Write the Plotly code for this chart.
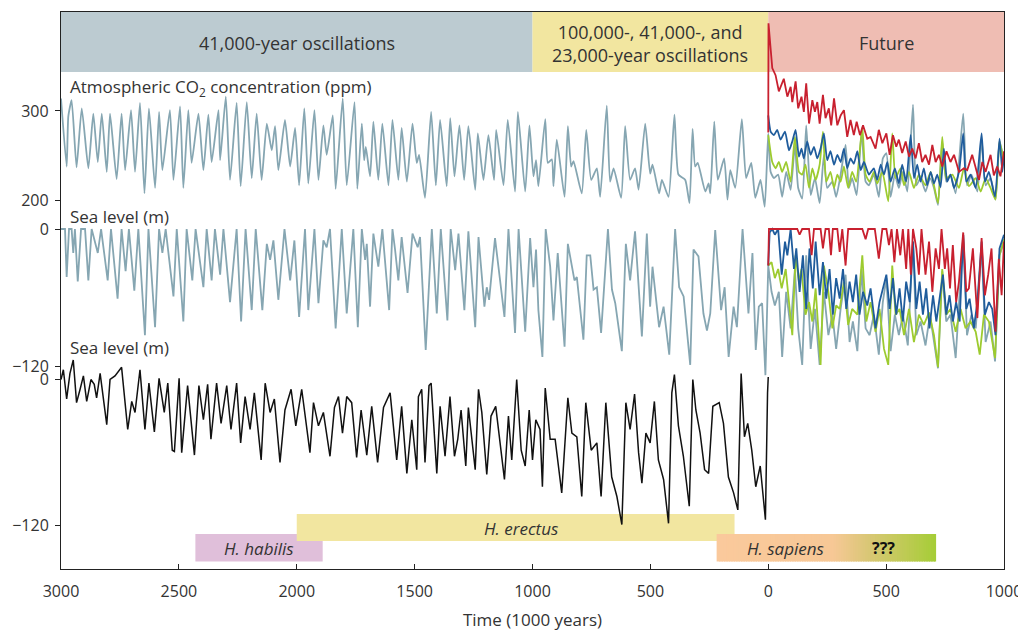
import plotly.graph_objects as go
import numpy as np

# ---------------- DATA (time in kyr, negative = past) ----------------
# Atmospheric CO2 (ppm), natural / reference run: past to future
grey_co2 = [
    (-3000,314),(-2976,238),(-2969,294),(-2955,312),(-2934,237),(-2912,303),(-2884,236),(-2863,297),
    (-2844,243),(-2827,297),(-2806,232),(-2792,297),(-2764,224),(-2743,297),(-2728,234),(-2703,301),
    (-2686,232),(-2665,309),(-2646,208),(-2627,303),(-2601,214),(-2584,299),(-2570,234),(-2538,301),
    (-2523,223),(-2495,305),(-2481,214),(-2460,301),(-2446,242),(-2417,297),(-2396,234),(-2375,296),
    (-2361,243),(-2332,301),(-2325,245),(-2301,316),(-2283,223),(-2255,309),(-2238,216),(-2212,310),
    (-2191,225),(-2170,297),(-2149,223),(-2127,286),(-2106,256),(-2092,283),(-2078,234),(-2050,290),
    (-2028,238),(-2007,281),(-1990,217),(-1968,303),(-1951,219),(-1925,301),(-1908,223),(-1887,284),
    (-1873,251),(-1847,295),(-1835,213),(-1805,314),(-1788,217),(-1755,310),(-1743,213),(-1724,286),
    (-1714,245),(-1707,260),(-1689,227),(-1675,288),(-1654,223),(-1637,286),(-1611,217),(-1594,290),
    (-1569,223),(-1555,281),(-1533,221),(-1509,286),(-1491,242),(-1481,251),(-1456,203),(-1430,299),
    (-1410,217),(-1392,290),(-1364,216),(-1349,292),(-1331,227),(-1310,284),(-1290,223),(-1272,283),
    (-1243,212),(-1232,275),(-1208,223),(-1187,273),(-1163,223),(-1154,279),(-1123,217),(-1105,290),
    (-1074,210),(-1062,299),(-1031,210),(-1013,284),(-996,227),(-985,245),(-975,216),(-946,291),
    (-935,242),(-918,246),(-911,216),(-897,268),(-864,204),(-850,283),(-836,238),(-826,244),
    (-791,208),(-772,279),(-751,223),(-727,236),(-713,204),(-685,306),(-671,221),(-656,236),
    (-624,203),(-607,283),(-586,223),(-565,236),(-550,212),(-522,286),(-501,230),(-491,240),
    (-463,208),(-451,223),(-423,204),(-398,296),(-381,229),(-352,223),(-334,197),(-321,280),
    (-310,238),(-299,242),(-267,210),(-253,219),(-246,208),(-229,288),(-214,223),(-187,247),
    (-173,201),(-161,234),(-140,214),(-112,291),(-94,225),(-72,242),(-55,203),(-33,223),
    (-15,193),(0,275),
    (10,232),(24,225),(42,229),(59,204),(76,232),(95,212),(113,262),(127,214),(144,202),(161,284),
    (180,206),(198,225),(218,197),(236,251),(250,214),(272,221),(288,204),(307,229),(328,262),
    (342,214),(356,225),(375,206),(396,277),(413,221),(427,217),(448,229),(469,204),(486,247),
    (501,253),(519,204),(537,229),(554,214),(571,232),(590,210),(614,307),(628,217),(646,225),
    (667,210),(686,225),(703,214),(720,195),(738,266),(755,221),(773,229),(795,208),(827,297),
    (843,217),(862,229),(887,210),(905,269),(922,217),(943,225),(964,201),(981,267),(1000,243),
]
green_co2 = [
    (0,273),(17,243),(31,236),(45,243),(59,232),(76,243),(95,221),(113,271),(130,232),(144,229),
    (158,240),(173,214),(187,236),(201,223),(218,240),(232,277),(246,221),(264,232),(279,214),
    (293,229),(307,221),(321,238),(339,214),(356,232),(373,221),(399,282),(413,229),(430,221),
    (448,232),(462,219),(484,232),(509,199),(526,275),(540,225),(561,236),(576,217),(597,232),
    (618,214),(639,229),(667,217),(689,232),(720,197),(738,271),(755,225),(781,229),(809,214),
    (830,236),(851,216),(880,225),(901,210),(922,225),(943,214),(964,201),(981,266),(1000,243),
]
blue_co2 = [
    (0,295),(10,277),(24,273),(38,279),(52,268),(71,277),(88,256),(102,266),(116,279),(130,249),
    (141,258),(151,247),(165,266),(180,251),(194,260),(208,247),(222,258),(236,275),(250,245),
    (264,255),(279,240),(293,251),(307,243),(321,258),(335,236),(349,247),(363,241),(378,255),
    (392,234),(406,243),(427,229),(448,236),(462,223),(477,240),(491,229),(505,243),(519,221),
    (537,236),(554,219),(568,240),(585,221),(604,273),(618,225),(632,240),(646,221),(660,236),
    (674,217),(689,232),(703,219),(717,229),(731,215),(745,258),(759,221),(773,229),(788,214),
    (809,232),(827,275),(840,221),(858,229),(880,214),(905,275),(919,221),(936,232),(962,204),
    (981,269),(993,232),(1000,251),
]
red_co2 = [
    (0,276),(1,398),(17,348),(31,340),(45,322),(66,336),(81,316),(95,327),(102,310),(116,333),
    (127,303),(141,316),(151,299),(161,331),(173,286),(187,312),(198,299),(208,310),(218,286),
    (232,318),(243,292),(257,303),(267,284),(279,314),(293,284),(307,295),(321,301),(335,271),
    (349,290),(363,273),(375,288),(389,273),(402,284),(420,269),(434,271),(455,258),(469,279),
    (484,264),(501,275),(515,251),(529,273),(543,260),(554,268),(568,253),(583,266),(597,249),
    (611,258),(625,247),(639,264),(653,243),(667,251),(682,240),(696,262),(710,243),(724,251),
    (738,238),(756,255),(773,243),(788,251),(809,232),(830,236),(844,234),(865,251),(880,236),
    (894,223),(908,243),(922,232),(943,251),(957,228),(971,238),(985,227),(1000,255),
]

# Modelled sea level (m): past to future
grey_sl = [
    (-3000,0),(-2983,0),(-2976,-42),(-2966,0),(-2955,0),(-2948,-21),(-2941,0),(-2929,-46),(-2915,0),
    (-2898,0),(-2884,-45),(-2870,0),(-2844,-21),(-2830,0),(-2802,-45),(-2788,0),(-2760,-61),(-2743,0),
    (-2726,-37),(-2712,0),(-2689,-54),(-2672,0),(-2644,-93),(-2629,0),(-2601,-86),(-2584,0),(-2570,-21),
    (-2556,0),(-2523,-59),(-2509,0),(-2481,-81),(-2467,0),(-2443,-45),(-2429,0),(-2396,-51),(-2382,0),
    (-2361,-45),(-2347,0),(-2325,-40),(-2311,0),(-2283,-64),(-2255,0),(-2236,-81),(-2217,0),(-2191,-71),
    (-2174,0),(-2146,-71),(-2127,-13),(-2113,-27),(-2099,-10),(-2078,-62),(-2052,0),(-2028,-45),
    (-2010,-10),(-1990,-77),(-1965,0),(-1951,-71),(-1925,0),(-1908,-65),(-1887,-10),(-1873,-16),
    (-1859,0),(-1835,-87),(-1809,0),(-1788,-74),(-1760,0),(-1741,-86),(-1724,0),(-1710,-27),(-1703,-13),
    (-1689,-68),(-1675,-4),(-1654,-33),(-1637,0),(-1608,-71),(-1594,0),(-1583,-18),(-1569,-45),
    (-1555,-7),(-1530,-56),(-1509,-4),(-1487,-16),(-1477,-7),(-1453,-106),(-1427,0),(-1406,-74),
    (-1389,0),(-1361,-80),(-1347,0),(-1328,-36),(-1314,-4),(-1289,-71),(-1272,-2),(-1243,-86),
    (-1229,-7),(-1204,-68),(-1194,-51),(-1184,-62),(-1159,-8),(-1119,-77),(-1102,0),(-1074,-91),
    (-1059,0),(-1031,-90),(-1010,-8),(-996,-51),(-985,-18),(-975,-71),(-958,-112),(-944,0),(-925,-33),
    (-911,-80),(-893,-21),(-864,-103),(-850,-13),(-833,-33),(-822,-45),(-812,-42),(-784,-97),
    (-770,-23),(-755,-23),(-741,-53),(-727,-51),(-709,-91),(-680,0),(-663,-53),(-649,-65),(-621,-107),
    (-604,-13),(-586,-45),(-565,-2),(-536,-94),(-515,-4),(-501,-68),(-491,-33),(-463,-86),(-444,-68),
    (-420,-110),(-395,0),(-378,-51),(-359,-59),(-331,-119),(-317,-18),(-296,-24),(-275,-74),
    (-260,-89),(-246,-74),(-225,-1),(-200,-71),(-185,-51),(-168,-112),(-147,-68),(-133,-86),(-109,0),
    (-84,-74),(-67,-21),(-53,-106),(-40,-68),(-26,-65),(-12,-128),(0,-32),
    (14,-55),(28,-67),(45,-55),(59,-112),(76,-55),(95,-87),(113,-35),(127,-87),(144,-119),(161,-23),
    (180,-105),(198,-70),(218,-119),(236,-55),(255,-93),(272,-75),(288,-105),(307,-70),(328,-40),
    (345,-99),(359,-81),(378,-107),(396,-35),(413,-87),(430,-93),(448,-75),(469,-110),(486,-64),
    (501,-43),(519,-107),(537,-75),(554,-93),(571,-75),(592,-102),(614,-11),(628,-93),(646,-81),
    (667,-102),(686,-75),(703,-99),(720,-122),(738,-37),(755,-81),(773,-75),(795,-113),(827,-5),
    (843,-93),(862,-75),(880,-87),(905,-17),(922,-99),(943,-81),(962,-116),(981,-23),(1000,-11),
]
green_sl = [
    (0,-32),(14,-29),(28,-43),(42,-35),(57,-52),(74,-35),(102,-93),(116,-23),(130,-46),(141,-35),
    (158,-75),(173,-64),(187,-81),(201,-52),(222,-119),(236,-32),(255,-55),(272,-87),(288,-67),
    (303,-70),(321,-46),(339,-84),(356,-70),(378,-75),(399,-23),(416,-81),(434,-64),(455,-90),
    (472,-70),(491,-105),(509,-119),(526,-32),(540,-75),(557,-70),(576,-93),(597,-70),(618,-99),
    (639,-75),(660,-84),(682,-73),(703,-93),(720,-121),(738,-35),(755,-75),(773,-70),(795,-90),
    (816,-70),(837,-87),(858,-81),(880,-90),(897,-110),(915,-75),(936,-81),(962,-113),(981,-23),
    (1000,-9),
]
blue_sl = [
    (0,-32),(6,-3),(17,0),(28,-5),(42,0),(57,-40),(71,-11),(81,-23),(95,0),(109,-35),(119,-17),
    (133,-55),(147,-23),(161,-70),(175,-17),(189,-52),(201,-11),(218,-58),(232,-29),(246,-61),
    (260,-35),(274,-75),(288,-43),(303,-61),(317,-35),(331,-70),(345,-46),(359,-64),(373,-40),
    (387,-75),(402,-55),(420,-67),(434,-52),(455,-87),(472,-64),(486,-52),(501,-40),(515,-70),
    (529,-43),(543,-75),(557,-52),(571,-81),(585,-46),(600,-64),(614,-11),(628,-70),(642,-46),
    (656,-75),(670,-52),(684,-87),(699,-58),(713,-81),(727,-61),(741,-40),(755,-75),(769,-58),
    (783,-81),(797,-64),(812,-81),(827,-5),(840,-70),(854,-61),(872,-87),(887,-64),(905,-11),
    (919,-75),(936,-64),(950,-70),(964,-93),(981,-17),(1000,-5),
]
red_sl = [
    (0,-32),(3,0),(123,0),(133,-5),(144,0),(173,0),(184,-23),(194,0),(222,0),(232,-17),(243,0),
    (257,0),(266,-23),(274,0),(293,0),(303,-20),(314,0),(328,-32),(339,0),(399,0),(413,-9),(424,0),
    (452,0),(469,-26),(484,0),(501,0),(512,-14),(523,0),(535,-29),(546,0),(560,-23),(571,0),
    (585,-35),(594,0),(605,-40),(614,0),(628,-17),(639,-40),(650,0),(667,-40),(682,-11),(696,-55),
    (710,-17),(724,-35),(735,0),(749,-35),(759,-17),(771,-52),(783,-14),(797,-64),(809,-46),
    (827,-3),(840,-55),(851,-52),(868,-17),(887,-78),(905,-8),(919,-58),(933,-40),(947,-17),
    (964,-90),(978,-26),(990,-58),(1000,-11),
]

# Reconstructed sea level (m), past only
black_sl = [
    (-3000,0),(-2990,8),(-2976,-16),(-2962,5),(-2948,16),(-2934,-19),(-2919,-8),(-2905,3),(-2891,-18),
    (-2873,0),(-2859,-4),(-2849,-15),(-2834,5),(-2813,-25),(-2806,-37),(-2792,0),(-2771,3),(-2743,10),
    (-2728,-22),(-2717,-41),(-2700,-18),(-2686,-27),(-2665,8),(-2644,-41),(-2627,-3),(-2604,-43),
    (-2584,1),(-2562,-27),(-2547,-3),(-2528,-58),(-2519,-59),(-2499,1),(-2488,-60),(-2463,-5),
    (-2434,-62),(-2415,-5),(-2396,-33),(-2378,-4),(-2364,-49),(-2340,-3),(-2321,-36),(-2297,-5),
    (-2279,-41),(-2255,-3),(-2238,-52),(-2219,-14),(-2198,-41),(-2180,-11),(-2151,-66),(-2134,-3),
    (-2113,-27),(-2095,-16),(-2071,-68),(-2050,-25),(-2024,-8),(-2004,-38),(-1979,-8),(-1944,-60),
    (-1929,-19),(-1908,-38),(-1887,-27),(-1859,-63),(-1840,-23),(-1823,-14),(-1806,-44),(-1788,-14),
    (-1767,-19),(-1746,-64),(-1727,-25),(-1703,-62),(-1682,-22),(-1657,-68),(-1632,-23),(-1604,-11),
    (-1576,-66),(-1555,-22),(-1533,-77),(-1512,-33),(-1491,-74),(-1484,-14),(-1470,-8),(-1456,-68),
    (-1439,-5),(-1430,-3),(-1406,-77),(-1392,-22),(-1371,-63),(-1350,-14),(-1331,-63),(-1317,-49),
    (-1303,-25),(-1283,-71),(-1272,-23),(-1243,-74),(-1229,-8),(-1215,-27),(-1194,-78),(-1176,-30),
    (-1156,-22),(-1137,-52),(-1119,-82),(-1102,-30),(-1088,-66),(-1067,0),(-1048,-58),(-1031,-71),
    (-1014,-25),(-1000,-66),(-986,-33),(-968,-41),(-958,-88),(-946,-7),(-925,-49),(-904,-49),
    (-876,-93),(-850,-15),(-833,-44),(-812,-47),(-791,-96),(-774,-19),(-751,-58),(-727,-52),
    (-709,-96),(-689,-19),(-664,-80),(-642,-96),(-621,-119),(-604,-19),(-586,-41),(-567,-12),
    (-550,-60),(-536,-85),(-519,-44),(-501,-52),(-483,-18),(-466,-66),(-444,-82),(-423,-118),
    (-409,-11),(-398,4),(-381,-38),(-360,-63),(-335,-104),(-320,0),(-307,-25),(-289,-44),(-270,-74),
    (-253,-77),(-235,-22),(-208,-19),(-190,-36),(-169,-80),(-147,-93),(-129,-107),(-115,5),
    (-101,-47),(-87,-36),(-70,-58),(-53,-88),(-34,-71),(-19,-104),(-12,-115),(-3,-11),(0,2),
]

# Period bands and species ranges
periods = ["41,000-year oscillations", "100,000-, 41,000-, and<br>23,000-year oscillations", "Future"]
period_start = [-3000, -1000, 0]
period_end = [-1000, 0, 1000]
species = ["H. habilis", "H. erectus", "H. sapiens"]
species_start = [-2430, -2000, -219]
species_end = [-1890, -143, 712]

x_tickvals = [-3000, -2500, -2000, -1500, -1000, -500, 0, 500, 1000]
x_ticktext = ["3000", "2500", "2000", "1500", "1000", "500", "0", "500", "1000"]

# ---------------- STYLE ----------------
FONT = "Open Sans"
TXT = "#333333"
GREY = "#86a6b2"
GREEN = "#9dcb2f"
BLUE = "#1f5c9c"
RED = "#c8202f"

fig = go.Figure()

def add_line(pairs, axis, color, width, shape="spline"):
    t, v = zip(*pairs)
    fig.add_trace(go.Scatter(x=list(t), y=list(v), yaxis=axis, mode="lines",
                             line=dict(color=color, width=width, shape=shape,
                                       smoothing=0.5 if shape == "spline" else None),
                             hoverinfo="skip", showlegend=False))

add_line(grey_co2, "y", GREY, 1.8)
add_line(green_co2, "y", GREEN, 1.8)
add_line(blue_co2, "y", BLUE, 1.8)
add_line(red_co2, "y", RED, 1.8, "linear")
add_line(grey_sl, "y2", GREY, 1.8, "linear")
add_line(green_sl, "y2", GREEN, 1.8, "linear")
add_line(blue_sl, "y2", BLUE, 1.8, "linear")
add_line(red_sl, "y2", RED, 1.8, "linear")
add_line(black_sl, "y3", "#111111", 1.5, "linear")

# layout geometry (pixels); the page body adds an 8 px offset
W, H = 1018, 625
ML, MR, MT, MB = 53, 22, 4, 64
PLOT_TOP, PLOT_BOTTOM = 12, 569   # absolute screen pixels of plot area
PH = PLOT_BOTTOM - PLOT_TOP

def py(ypix):  # absolute screen pixel -> paper
    return (PLOT_BOTTOM - ypix) / PH

shapes = []
band_colors = ["#bccbd1", "#f2e6a0", "#efbdb3"]
for s, e, c in zip(period_start, period_end, band_colors):
    shapes.append(dict(type="rect", xref="x", yref="paper", x0=s, x1=e, y0=py(72), y1=1.0,
                       fillcolor=c, line=dict(width=0), layer="below"))

# species bars
sp_y = [(py(561.5), py(534)), (py(541), py(514)), (py(561.5), py(534))]
shapes.append(dict(type="rect", xref="x", yref="paper", x0=species_start[0], x1=species_end[0],
                   y0=sp_y[0][0], y1=sp_y[0][1], fillcolor="#e0bfda", line=dict(width=0), layer="below"))
shapes.append(dict(type="rect", xref="x", yref="paper", x0=species_start[1], x1=species_end[1],
                   y0=sp_y[1][0], y1=sp_y[1][1], fillcolor="#f2e6a0", line=dict(width=0), layer="below"))

# gradient for H. sapiens
stops = [(0.0, (250, 201, 156)), (0.53, (247, 200, 150)), (0.69, (218, 199, 118)),
         (0.83, (195, 202, 90)), (1.0, (165, 205, 55))]
def col_at(f):
    for (f0, c0), (f1, c1) in zip(stops[:-1], stops[1:]):
        if f <= f1:
            u = (f - f0) / (f1 - f0)
            return "rgb(%d,%d,%d)" % tuple(round(a + (b - a) * u) for a, b in zip(c0, c1))
    return "rgb(%d,%d,%d)" % stops[-1][1]
N = 90
s0, s1 = species_start[2], species_end[2]
edges = np.linspace(s0, s1, N + 1)
for i in range(N):
    a, b = edges[i], edges[i + 1]
    shapes.append(dict(type="rect", xref="x", yref="paper", x0=a, x1=min(b + 6, s1),
                       y0=sp_y[2][0], y1=sp_y[2][1], fillcolor=col_at((i + 0.5) / N),
                       line=dict(width=0), layer="below"))

def ann(x, ypix, text, size=17, color=TXT, xanchor="center"):
    return dict(x=x, y=py(ypix), xref="x", yref="paper", text=text, showarrow=False,
                xanchor=xanchor, yanchor="middle", font=dict(family=FONT, size=size, color=color))

annotations = [
    ann((period_start[0] + period_end[0]) / 2, 43, periods[0], 18),
    ann((period_start[1] + period_end[1]) / 2, 44, periods[1], 18),
    ann((period_start[2] + period_end[2]) / 2, 43, periods[2], 18),
    ann(-2972, 87, "Atmospheric CO<sub>2</sub> concentration (ppm)", 17, xanchor="left"),
    ann(-2972, 216, "Sea level (m)", 17, xanchor="left"),
    ann(-2972, 347, "Sea level (m)", 17, xanchor="left"),
    ann((species_start[0] + species_end[0]) / 2, 548, "<i>" + species[0] + "</i>"),
    ann(-1050, 528, "<i>" + species[1] + "</i>"),
    ann(75, 548, "<i>" + species[2] + "</i>"),
    ann(490, 548, "<b>???</b>", 16, "#111111"),
]

common_y = dict(showgrid=False, zeroline=False, ticks="outside", ticklen=5, tickcolor="#222",
                tickfont=dict(family=FONT, size=16, color=TXT), fixedrange=True, automargin=False,
                ticklabelstandoff=3)

fig.update_layout(
    width=W, height=H, margin=dict(l=ML, r=MR, t=MT, b=MB, autoexpand=False),
    paper_bgcolor="white", plot_bgcolor="white", showlegend=False,
    shapes=shapes, annotations=annotations,
    xaxis=dict(range=[-3000, 1000], tickvals=x_tickvals, ticktext=x_ticktext, ticks="inside",
               ticklen=5, tickcolor="#222", showline=True, linecolor="#222", linewidth=1.3,
               mirror=True, showgrid=False, zeroline=False, automargin=False,
               ticklabelstandoff=8,
               tickfont=dict(family=FONT, size=16, color=TXT),
               title=dict(text="Time (1000 years)", font=dict(family=FONT, size=17, color=TXT),
                          standoff=12)),
    yaxis=dict(range=[-211.7, 410.6], tickvals=[200, 300], showline=True, linecolor="#222",
               linewidth=1.3, mirror=True, **common_y),
    yaxis2=dict(range=[-297.8, 190.1], tickvals=[-120, 0], overlaying="y", anchor="x", side="left",
                showline=False, **common_y),
    yaxis3=dict(range=[-155.5, 301.6], tickvals=[-120, 0], overlaying="y", anchor="x", side="left",
                showline=False, **common_y),
)

fig.write_html("out.html")
